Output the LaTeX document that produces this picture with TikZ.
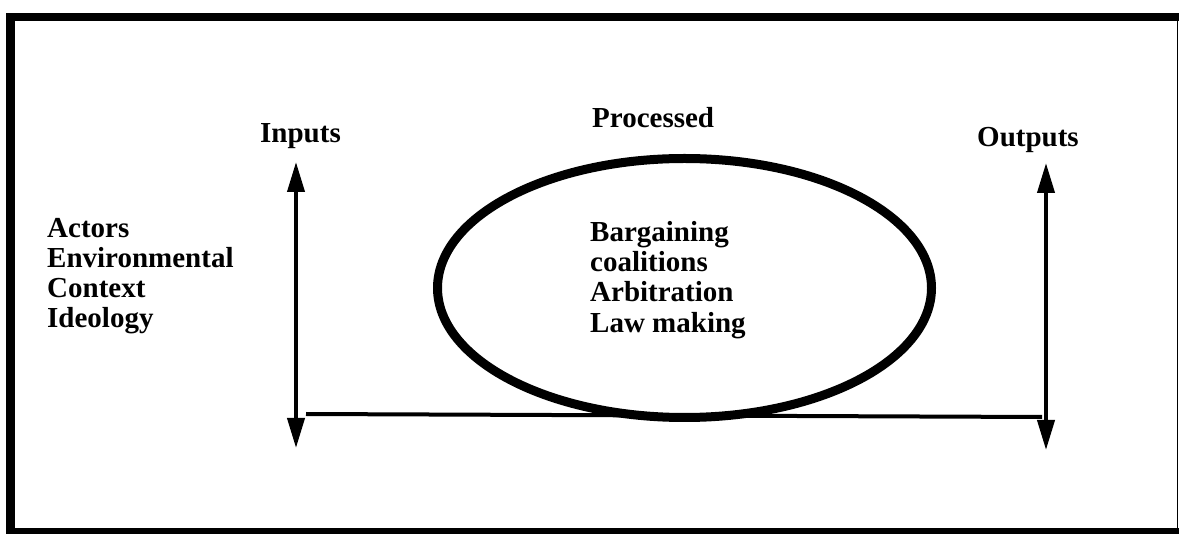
\documentclass[tikz,border=0pt]{standalone}
\usepackage{fontspec}
\setmainfont{Liberation Serif}
\usetikzlibrary{arrows.meta}
\begin{document}
\begin{tikzpicture}[x=1pt,y=-1pt,
  label/.style={font=\fontsize{29}{30}\selectfont\bfseries, anchor=base west, inner sep=0pt},
  axis/.style={line width=4pt, {Triangle[length=30pt,width=17pt]}-{Triangle[length=30pt,width=17pt]}},
  baseline link/.style={line width=4pt}]
\useasboundingbox (0,0) rectangle (1179,534);
% frame
\fill (6,13) rectangle (1179,21);
\fill (6,13) rectangle (15,534);
\fill (6,528) rectangle (1179,534);
\draw[line width=1.5pt] (1177.5,21) -- (1177.5,528);
% process ellipse
\draw[line width=9pt] (684.5,288) ellipse [x radius=247, y radius=129.5];
% input and output axes
\coordinate (intop) at (296,162);
\coordinate (inbot) at (296,448);
\coordinate (outtop) at (1046,163);
\coordinate (outbot) at (1046,450);
\coordinate (linkL) at (306,414);
\coordinate (linkR) at (1042,417);
\draw[axis] (inbot) -- (intop);
\draw[axis] (outbot) -- (outtop);
\draw[baseline link] (linkL) -- (linkR);
% headings
\node[label] (inputs) at (260,143) {Inputs};
\node[label] (processed) at (592,128) {Processed};
\node[label] (outputs) at (977,147) {Outputs};
% input factors
\node[label] (a1) at (47,238) {Actors};
\node[label] (a2) at (47,268) {Environmental};
\node[label] (a3) at (47,298) {Context};
\node[label] (a4) at (47,328) {Ideology};
% processes
\node[label] (p1) at (590,242) {Bargaining};
\node[label] (p2) at (590,272) {coalitions};
\node[label] (p3) at (590,302) {Arbitration};
\node[label] (p4) at (590,333) {Law making};
\end{tikzpicture}
\end{document}
